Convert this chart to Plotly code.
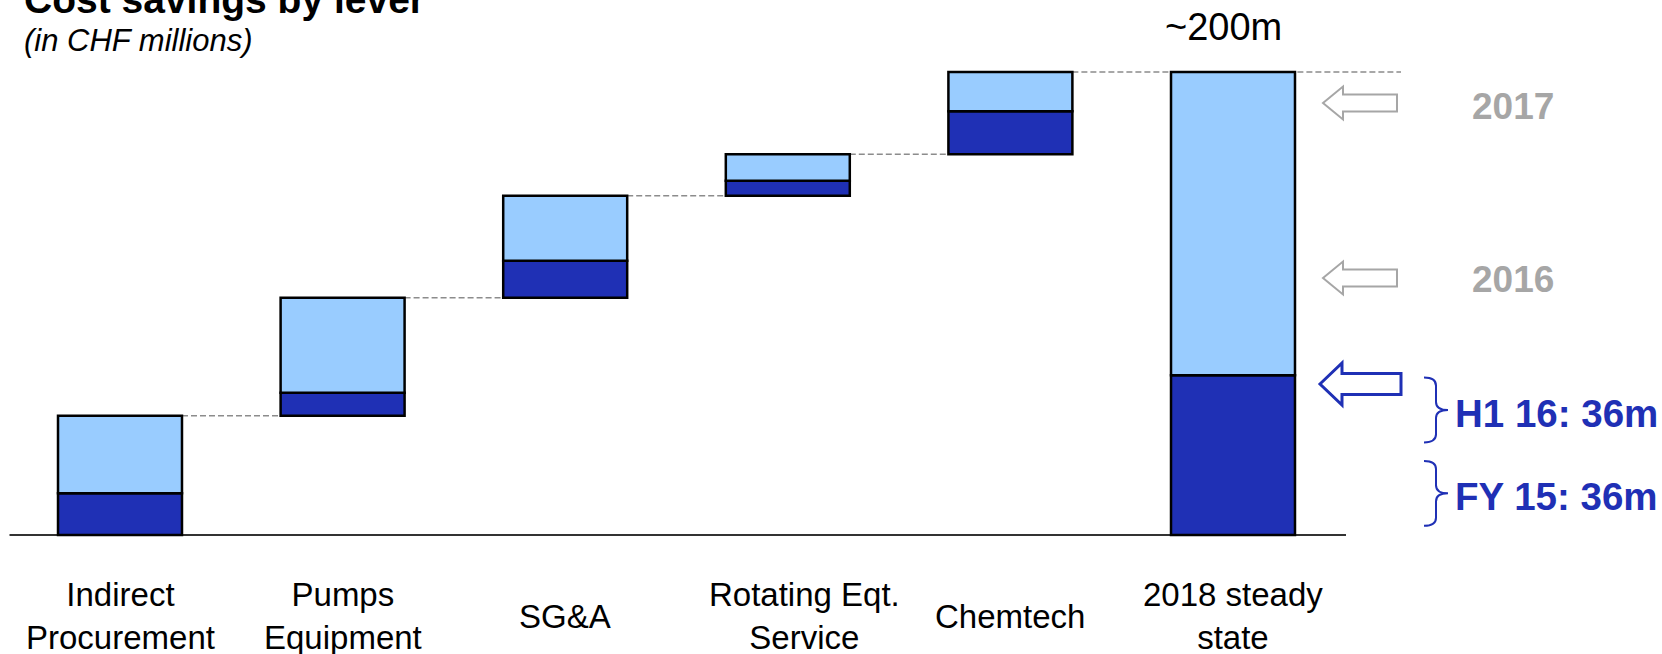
import plotly.graph_objects as go

# ---- data (CHF millions) ----
categories = ["Indirect<br>Procurement", "Pumps<br>Equipment", "SG&A",
              "Rotating Eqt.<br>Service", "Chemtech", "2018 steady<br>state"]
delivered = [18, 10, 16, 6.5, 18.5]      # dark part: savings already delivered
remaining = [33.5, 41, 28, 11.5, 17]     # light part: savings still to come
total_label = "~200m"
milestone_labels = ["FY 15: 36m", "H1 16: 36m"]
milestone_values = [36, 36]
year_labels = ["2017", "2016"]

# ---- styling ----
W, H = 1662, 654
DARK = "#1f30b5"
LIGHT = "#99ccff"
GREY = "#a6a6a6"
FONT = "Liberation Sans, Arial, sans-serif"
BAR_W = 0.557
LABEL_SHIFT = [0, 0, 0, 17, 0, 0]   # horizontal nudge (px) of category labels

# ---- waterfall geometry ----
steps = [d + r for d, r in zip(delivered, remaining)]
bases = []
run = 0
for s in steps:
    bases.append(run)
    run += s
grand_total = run
n = len(categories)
xs = list(range(n))

dark_base = bases + [0]
dark_h = delivered + [sum(delivered)]
light_base = [b + d for b, d in zip(bases, delivered)] + [sum(delivered)]
light_h = remaining + [sum(remaining)]

fig = go.Figure()
outline = dict(color="#000000", width=2.5)
fig.add_trace(go.Bar(x=xs, y=dark_h, base=dark_base, width=BAR_W,
                     marker=dict(color=DARK, line=outline), hoverinfo="skip"))
fig.add_trace(go.Bar(x=xs, y=light_h, base=light_base, width=BAR_W,
                     marker=dict(color=LIGHT, line=outline), hoverinfo="skip"))

# axis scale: x unit = 222.6 px, y unit = 2.315 px, zero line at 535 px
X0, XS = 120, 222.6
Y0, YS = 535, 2.315
x_range = [-X0 / XS, (W - X0) / XS]
y_range = [-(H - Y0) / YS, Y0 / YS]


def px_x(p):
    return (p - X0) / XS


def px(xp):
    return xp / W


def py(yp):
    return 1 - yp / H


shapes = []
# dashed connectors between consecutive bars
tops = [b + s for b, s in zip(bases, steps)]
for i, t in enumerate(tops):
    x_start = i + BAR_W / 2
    x_end = i + 1 - BAR_W / 2 if i < len(tops) - 1 else px_x(1401)
    shapes.append(dict(type="line", xref="x", yref="y", x0=x_start, x1=x_end,
                       y0=t, y1=t, layer="below",
                       line=dict(color="#8c8c8c", width=1.5, dash="6px,3px")))
# baseline
shapes.append(dict(type="line", xref="x", yref="y", x0=px_x(9.5), x1=px_x(1346),
                   y0=0, y1=0, layer="below", line=dict(color="#333333", width=2)))


def block_arrow(tip, y, head_len, head_half, body_half, end):
    pts = [(tip, y), (tip + head_len, y - head_half), (tip + head_len, y - body_half),
           (end, y - body_half), (end, y + body_half), (tip + head_len, y + body_half),
           (tip + head_len, y + head_half)]
    d = "M " + " L ".join(f"{px(a):.5f},{py(b):.5f}" for a, b in pts) + " Z"
    return d


# hollow arrows beside the total bar
for label, yp in zip(year_labels, [103, 278]):
    shapes.append(dict(type="path", xref="paper", yref="paper",
                       path=block_arrow(1323, yp, 20, 16.5, 8.5, 1397),
                       fillcolor="#ffffff", line=dict(color=GREY, width=2)))
shapes.append(dict(type="path", xref="paper", yref="paper",
                   path=block_arrow(1320, 384, 22, 21, 10.5, 1401),
                   fillcolor="#ffffff", line=dict(color=DARK, width=3)))


def brace(lo, hi, inset=4.0):
    top, bot = hi - inset, lo + inset
    mid = (top + bot) / 2
    r = 3.5
    xh, xv, xp = px(1424), px(1436), px(1448)
    return (f"M {xh},{top} Q {xv},{top} {xv},{top - r} L {xv},{mid + r} "
            f"Q {xv},{mid} {xp},{mid} Q {xv},{mid} {xv},{mid - r} "
            f"L {xv},{bot + r} Q {xv},{bot} {xh},{bot}")


annotations = []
lo = 0
for label, v in zip(milestone_labels, milestone_values):
    hi = lo + v
    shapes.append(dict(type="path", xref="paper", yref="y", path=brace(lo, hi),
                       line=dict(color=DARK, width=2)))
    annotations.append(dict(text=f"<b>{label}</b>", xref="paper", yref="y",
                            x=px(1453), y=(lo + hi) / 2 - 1.5, xanchor="left",
                            yanchor="middle", showarrow=False,
                            font=dict(size=38.5, color=DARK, family=FONT)))
    lo = hi

for label, yp in zip(year_labels, [106, 280]):
    annotations.append(dict(text=f"<b>{label}</b>", xref="paper", yref="paper",
                            x=px(1513), y=py(yp), xanchor="center", yanchor="middle",
                            showarrow=False, font=dict(size=37, color=GREY, family=FONT)))

# category labels under the axis
for i, c in enumerate(categories):
    annotations.append(dict(text=c, xref="x", yref="paper", x=i, y=py(616),
                            xshift=LABEL_SHIFT[i],
                            xanchor="center", yanchor="middle", showarrow=False,
                            font=dict(size=33, color="#000000", family=FONT)))

# total label above the last bar
annotations.append(dict(text=total_label, xref="x", yref="paper", x=n - 1, y=py(27),
                        xshift=-10, xanchor="center", yanchor="middle", showarrow=False,
                        font=dict(size=38, color="#000000", family=FONT)))

# title and unit note
annotations.append(dict(text="<b>Cost savings by lever</b>", xref="paper", yref="paper",
                        x=px(22), y=py(-1), xanchor="left", yanchor="middle",
                        showarrow=False, font=dict(size=39, color="#000000", family=FONT)))
annotations.append(dict(text="<i>(in CHF millions)</i>", xref="paper", yref="paper",
                        x=px(22), y=py(40), xanchor="left", yanchor="middle",
                        showarrow=False, font=dict(size=31, color="#000000", family=FONT)))

fig.update_layout(
    width=W, height=H,
    margin=dict(l=0, r=0, t=0, b=0),
    paper_bgcolor="#ffffff", plot_bgcolor="#ffffff",
    barmode="overlay", showlegend=False,
    xaxis=dict(range=x_range, visible=False, fixedrange=True),
    yaxis=dict(range=y_range, visible=False, fixedrange=True),
    shapes=shapes, annotations=annotations,
    font=dict(family=FONT),
)

fig.write_html("out.html", config={"displayModeBar": False})
